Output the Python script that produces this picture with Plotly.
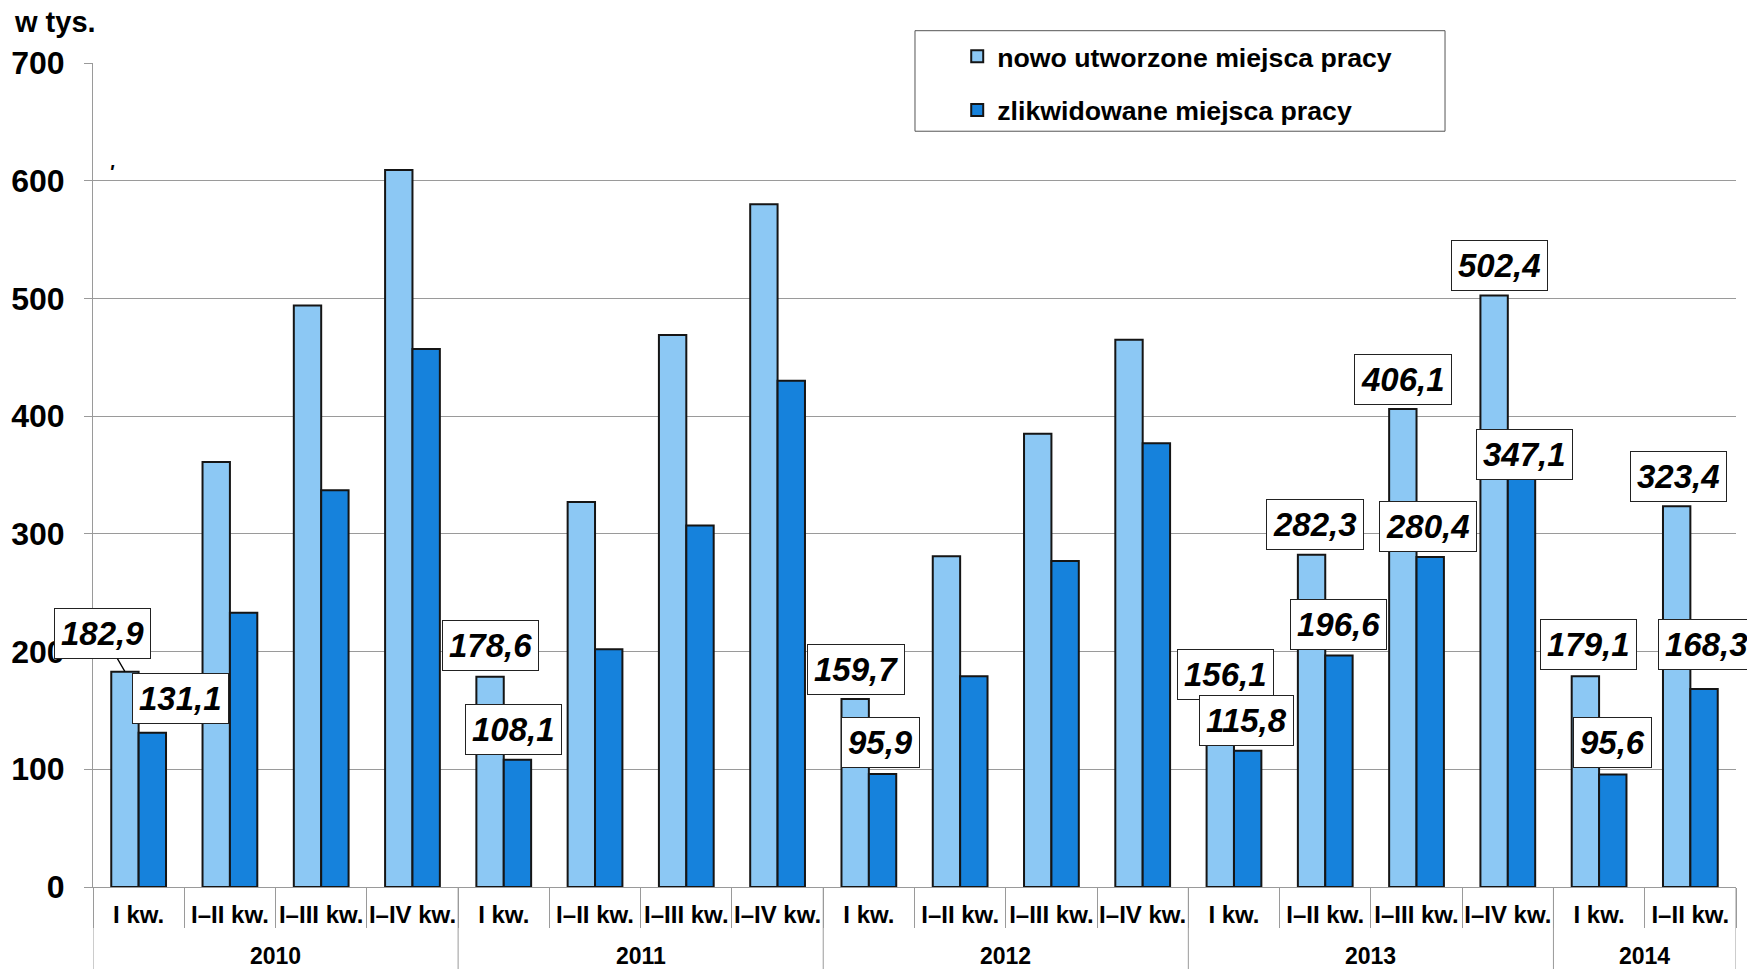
import plotly.graph_objects as go

# ---------------- data ----------------
years = ["2010", "2010", "2010", "2010",
         "2011", "2011", "2011", "2011",
         "2012", "2012", "2012", "2012",
         "2013", "2013", "2013", "2013",
         "2014", "2014"]
quarters = ["I kw.", "I–II kw.", "I–III kw.", "I–IV kw.",
            "I kw.", "I–II kw.", "I–III kw.", "I–IV kw.",
            "I kw.", "I–II kw.", "I–III kw.", "I–IV kw.",
            "I kw.", "I–II kw.", "I–III kw.", "I–IV kw.",
            "I kw.", "I–II kw."]
new_jobs = [182.9, 361.0, 494.0, 609.0,
            178.6, 327.0, 469.0, 580.0,
            159.7, 281.0, 385.0, 465.0,
            156.1, 282.3, 406.1, 502.4,
            179.1, 323.4]
lost_jobs = [131.1, 233.0, 337.0, 457.0,
             108.1, 202.0, 307.0, 430.0,
             95.9, 179.0, 277.0, 377.0,
             115.8, 196.6, 280.4, 347.1,
             95.6, 168.3]
name_new = "nowo utworzone miejsca pracy"
name_lost = "zlikwidowane miejsca pracy"
unit_label = "w tys."

# which bars carry a value label, and the label offsets (px) from the bar top
new_label_offsets = {0: (-22, 38), 4: (0, 31), 8: (1, 30), 12: (5, 29), 13: (3, 30),
                     14: (0, 29), 15: (5, 30), 16: (3, 32), 17: (2, 30)}
lost_label_offsets = {0: (28, 34), 4: (-4, 30), 8: (-2, 32), 12: (-1, 30), 13: (0, 31),
                      14: (-2, 30), 15: (3, 24), 16: (0, 32), 17: (2, 44)}

FONT = "Liberation Sans, Arial, sans-serif"
LIGHT = "#8cc8f4"
DARK = "#1682dc"
EDGE = "#151515"
GRID = "#9a9a9a"


def fmt(v):
    return f"{v:.1f}".replace(".", ",")


n = len(quarters)
idx = list(range(n))

fig = go.Figure()
fig.add_trace(go.Bar(x=idx, y=new_jobs, name=name_new, legendgroup="a",
                     marker=dict(color=LIGHT, line=dict(color=EDGE, width=2))))
fig.add_trace(go.Bar(x=idx, y=lost_jobs, name=name_lost, legendgroup="b",
                     marker=dict(color=DARK, line=dict(color=EDGE, width=2))))

annotations = []
half = 0.15  # half of a bar's width in category units (bargap 0.4, 2 bars)
for series, offsets, shift in ((new_jobs, new_label_offsets, -half),
                               (lost_jobs, lost_label_offsets, half)):
    for i, (dx, dy) in offsets.items():
        common = dict(text=f"<b><i>{fmt(series[i])}</i></b>",
                      x=i + shift, y=series[i], xref="x", yref="y",
                      font=dict(family=FONT, size=33, color="black",
                                weight="bold", style="italic"),
                      bgcolor="white", bordercolor="#222", borderwidth=1,
                      borderpad=6)
        if series is new_jobs and i == 0:
            annotations.append(dict(common, showarrow=True, arrowhead=0,
                                    arrowwidth=1.3, arrowcolor="black",
                                    ax=dx, ay=-dy))
        else:
            annotations.append(dict(common, showarrow=False, xshift=dx,
                                    yshift=dy, xanchor="center",
                                    yanchor="middle"))

# year groups: labels centred under their quarters, dividers at group edges
year_names = []
for y in years:
    if y not in year_names:
        year_names.append(y)
boundaries = [-0.5]
for yname in year_names:
    members = [i for i, y in enumerate(years) if y == yname]
    annotations.append(dict(text=f"<b>{yname}</b>", x=sum(members) / len(members),
                            xref="x", yref="paper", y=-0.0835, borderpad=0,
                            xanchor="center", yanchor="middle", showarrow=False,
                            font=dict(family=FONT, size=23, color="black")))
    boundaries.append(members[-1] + 0.5)

shapes = [dict(type="line", xref="x", yref="paper", x0=b, x1=b, y0=0, y1=-0.11,
               line=dict(color=GRID, width=1)) for b in boundaries]

annotations.append(dict(text=f"<b>{unit_label}</b>", xref="paper", yref="paper",
                        x=-0.049, y=1.05, xanchor="left", yanchor="middle",
                        showarrow=False,
                        font=dict(family=FONT, size=29, color="black")))
annotations.append(dict(text="<b><i>'</i></b>", xref="paper", yref="y",
                        x=0.0115, y=607, xanchor="center", yanchor="middle",
                        showarrow=False,
                        font=dict(family=FONT, size=20, color="black")))

# legend frame
shapes.append(dict(type="rect", xref="paper", yref="paper",
                   x0=0.5003, x1=0.8229, y0=0.9172, y1=1.0392,
                   line=dict(color="#555", width=1), fillcolor="white",
                   layer="above"))

fig.update_layout(
    width=1747, height=969,
    margin=dict(l=93, r=11, t=63, b=82, autoexpand=False),
    paper_bgcolor="white", plot_bgcolor="white",
    barmode="group", bargap=0.4, bargroupgap=0,
    font=dict(family=FONT, color="black"),
    annotations=annotations,
    shapes=shapes,
    showlegend=True,
    legend=dict(x=0.526, y=1.037, xanchor="left", yanchor="top",
                bgcolor="rgba(0,0,0,0)", borderwidth=0,
                tracegroupgap=16, traceorder="grouped",
                font=dict(family=FONT, size=26.7, color="black",
                          weight="bold")),
    xaxis=dict(range=[-0.5, n - 0.5], autorange=False,
               tickmode="array", tickvals=idx, ticktext=quarters,
               ticks="", tickangle=0, ticklabelstandoff=6,
               showline=True, linecolor=GRID, linewidth=1,
               showgrid=False, zeroline=False,
               minor=dict(tickmode="array",
                          tickvals=[i - 0.5 for i in range(n + 1)],
                          ticks="outside", ticklen=40, tickcolor=GRID,
                          tickwidth=1, showgrid=False),
               tickfont=dict(family=FONT, size=24, color="black",
                             weight="bold")),
    yaxis=dict(range=[0, 700], dtick=100, showgrid=True, gridcolor=GRID,
               gridwidth=1, showline=True, linecolor=GRID, linewidth=1,
               ticks="outside", ticklen=8, tickcolor=GRID, zeroline=False,
               ticklabelstandoff=13,
               tickfont=dict(family=FONT, size=32, color="black",
                             weight="bold")),
)

fig.write_html("out.html",
               config={"displayModeBar": False},
               post_script="document.body.style.margin='0px';"
                           "document.body.style.overflow='hidden';")
